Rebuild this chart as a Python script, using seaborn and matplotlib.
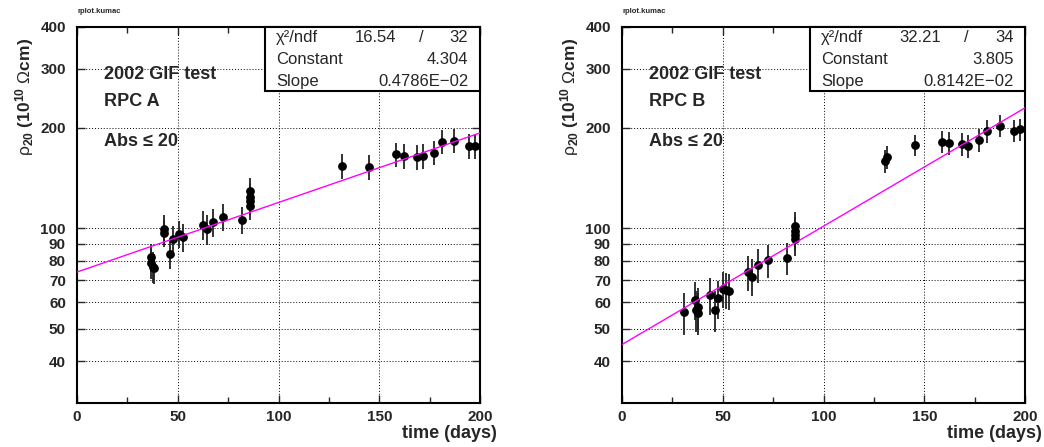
import numpy as np
import seaborn as sns
import matplotlib.pyplot as plt
from matplotlib.ticker import FixedLocator, NullLocator, NullFormatter
from matplotlib.patches import Rectangle

# RPC A
days_a = [36.7, 36.5, 37.5, 38.0, 43.3, 43.3, 46.0, 47.6, 50.4, 52.6,
          62.3, 64.5, 67.3, 72.6, 81.8, 85.8, 85.8, 85.8, 85.8,
          131.6, 145.1, 158.5, 162.5, 168.6, 171.9, 177.4, 181.3, 187.3, 194.4, 197.5]
rho_a = [81.9, 78.6, 76.8, 76.0, 99.3, 97.1, 83.6, 92.7, 96.0, 94.0,
         102.4, 99.3, 104.3, 107.9, 106.0, 129.5, 124.3, 120.7, 116.8,
         153.8, 152.8, 166.3, 164.0, 163.3, 164.0, 168.2, 181.4, 182.6, 176.5, 176.5]
err_a = [8, 8, 8, 8, 10, 9, 8, 9, 9, 9,
         10, 10, 10, 10, 10, 12, 12, 11, 11,
         13, 13, 14, 14, 14, 14, 14, 15, 15, 15, 15]

# RPC B
days_b = [30.6, 36.4, 36.7, 37.7, 37.7, 43.5, 46.0, 47.6, 50.1, 51.6, 53.2,
          62.3, 64.5, 67.3, 72.6, 81.7, 86.0, 86.0, 86.0, 86.0,
          130.6, 131.7, 145.3, 158.7, 162.5, 168.8, 171.9, 177.4, 181.3, 187.4, 194.4, 197.5]
rho_b = [56.1, 61.1, 57.0, 58.1, 56.0, 63.1, 57.0, 61.7, 65.9, 65.5, 65.1,
         73.9, 71.7, 77.4, 80.1, 81.4, 101.6, 98.2, 95.5, 92.7,
         158.8, 163.7, 177.3, 181.4, 179.3, 178.5, 176.5, 183.4, 195.0, 202.3, 195.5, 197.7]
err_b = [8, 8, 8, 8, 8, 8, 8, 8, 8, 8, 8,
         9, 9, 9, 9, 9, 10, 10, 10, 10,
         13, 13, 13, 14, 14, 14, 14, 14, 15, 15, 15, 15]

# fit results (exp(const + slope*t))
fit_a = {'chi2': '16.54', 'ndf': '32', 'const': 4.304, 'slope': 0.4786e-02, 'slope_txt': '0.4786E\u221202'}
fit_b = {'chi2': '32.21', 'ndf': '34', 'const': 3.805, 'slope': 0.8142e-02, 'slope_txt': '0.8142E\u221202'}

yticks = [40, 50, 60, 70, 80, 90, 100, 200, 300, 400]
xticks = [0, 50, 100, 150, 200]

sns.set_style('ticks')
plt.rcParams['font.family'] = ['Liberation Sans', 'DejaVu Sans']
plt.rcParams['mathtext.fontset'] = 'custom'
plt.rcParams['mathtext.rm'] = 'Liberation Sans'
plt.rcParams['mathtext.it'] = 'Liberation Sans:italic'
plt.rcParams['mathtext.bf'] = 'Liberation Sans:bold'

fig = plt.figure(figsize=(10.44, 4.47), dpi=100)


def panel(left, days, rho, err, fit, name):
    ax = fig.add_axes([left, 0.098, 0.386, 0.842])
    ax.errorbar(days, rho, yerr=err, fmt='none', ecolor='#222222', elinewidth=1.3, zorder=2)
    sns.scatterplot(x=days, y=rho, ax=ax, color='black', s=40, edgecolor='black', linewidth=0, zorder=3)
    t = np.linspace(0, 200, 50)
    sns.lineplot(x=t, y=np.exp(fit['const'] + fit['slope'] * t), ax=ax, color='#ff00ff', lw=1.0, zorder=4)

    ax.set_yscale('log')
    ax.set_xlim(0, 200)
    ax.set_ylim(30, 400)
    ax.yaxis.set_major_locator(FixedLocator(yticks))
    ax.set_yticklabels([str(v) for v in yticks])
    ax.yaxis.set_minor_locator(NullLocator())
    ax.yaxis.set_minor_formatter(NullFormatter())
    ax.xaxis.set_major_locator(FixedLocator(xticks))
    ax.xaxis.set_minor_locator(FixedLocator([25, 75, 125, 175]))
    ax.tick_params(which='both', direction='in', top=True, right=True, labelsize=11)
    ax.tick_params(which='major', length=6, width=1)
    ax.tick_params(which='minor', length=4, width=1)
    ax.tick_params(axis='y', pad=8)
    ax.tick_params(axis='x', pad=5)
    for lab in ax.get_xticklabels() + ax.get_yticklabels():
        lab.set_fontweight('bold')
    for s in ax.spines.values():
        s.set_linewidth(1.5)
        s.set_color('black')
    ax.grid(True, which='major', ls=(0, (1, 2)), color='black', lw=0.7)
    ax.set_xlabel('')
    ax.set_ylabel('')

    ax.text(1.042, -0.08, 'time (days)', transform=ax.transAxes, ha='right', va='center',
            fontsize=13, fontweight='bold')
    ax.text(-0.13, 0.97, '\u03c1$_{\\mathbf{20}}$ $\\mathbf{(10^{10}}$ \u03a9$\\mathbf{cm)}$',
            transform=ax.transAxes, rotation=90, ha='center', va='top', fontsize=12.5)
    ax.text(0.0, 1.042, 'rplot.kumac', transform=ax.transAxes, ha='left', va='center',
            fontsize=5.5, fontweight='bold')

    for y, s in zip([0.872, 0.801, 0.695], ['2002 GIF test', name, 'Abs \u2264 20']):
        ax.text(0.068, y, s, transform=ax.transAxes, ha='left', va='center',
                fontsize=13, fontweight='bold')

    ax.add_patch(Rectangle((0.467, 0.829), 0.533, 0.171, transform=ax.transAxes,
                           facecolor='white', edgecolor='black', lw=1.5, zorder=5, clip_on=False))
    rows = [0.971, 0.913, 0.856]
    kw = dict(transform=ax.transAxes, va='center', fontsize=12, zorder=6)
    ax.text(0.494, rows[0], '\u03c7\u00b2/ndf', ha='left', **kw)
    ax.text(0.792, rows[0], fit['chi2'], ha='right', **kw)
    ax.text(0.855, rows[0], '/', ha='center', **kw)
    ax.text(0.971, rows[0], fit['ndf'], ha='right', **kw)
    ax.text(0.494, rows[1], 'Constant', ha='left', **kw)
    ax.text(0.971, rows[1], '%.3f' % fit['const'], ha='right', **kw)
    ax.text(0.494, rows[2], 'Slope', ha='left', **kw)
    ax.text(0.971, rows[2], fit['slope_txt'], ha='right', **kw)
    return ax


panel(0.0738, days_a, rho_a, err_a, fit_a, 'RPC A')
panel(0.5958, days_b, rho_b, err_b, fit_b, 'RPC B')

fig.savefig('out.png', dpi=100)
